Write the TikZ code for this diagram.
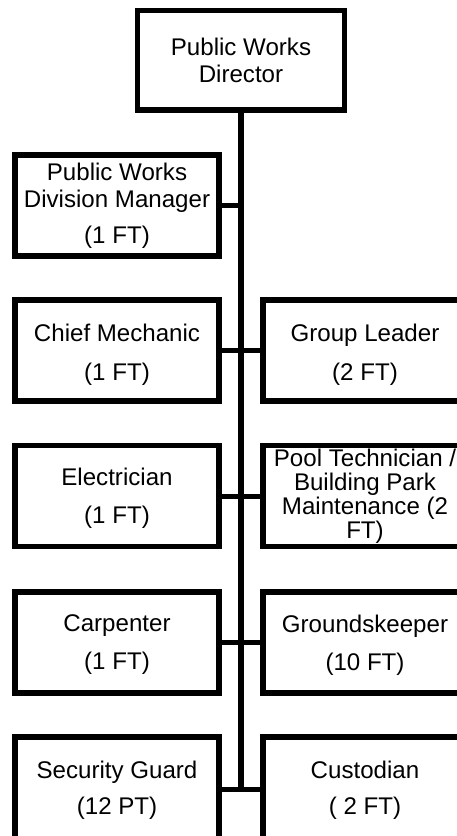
\documentclass[tikz,border=0pt]{standalone}
\usepackage{fontspec}
\setmainfont{Liberation Sans}
\begin{document}
\begin{tikzpicture}[x=1pt,y=-1pt,
  post/.style={draw, line width=5.5pt, inner sep=0pt,
    minimum width=204pt, minimum height=101pt},
  caption/.style={inner sep=0pt, align=center,
    font=\fontsize{24.1}{27}\selectfont},
  link/.style={line width=5pt},
  trunk/.style={line width=6pt}]
\useasboundingbox (0,0) rectangle (457,836);
\clip (0,0) rectangle (457,836);

% boxes: head of the department, left column, right column
\node[post, minimum width=207pt, minimum height=99.5pt] (dir) at (241,60.25) {};
\node[post] (pwdm) at (117,205.5) {};
\node[post] (cm) at (117,350.5) {};
\node[post] (el) at (117,496) {};
\node[post] (cp) at (117,642.5) {};
\node[post, minimum height=104pt] (sg) at (117,789) {};
\node[post] (gl) at (365,350.5) {};
\node[post] (pt) at (365,496) {};
\node[post] (gk) at (365,642.5) {};
\node[post, minimum height=104pt] (cu) at (365,789) {};

% titles and head counts
\node[caption] (dir-t) at (dir.center) {Public Works\\Director};
\node[caption] (pwdm-t) at (pwdm.center) {Public Works\\Division Manager\\[9pt](1 FT)};
\node[caption, yshift=-4pt] (cm-t) at (cm.center) {Chief Mechanic\\[12pt](1 FT)};
\node[caption, yshift=-4pt] (gl-t) at (gl.center) {Group Leader\\[12pt](2 FT)};
\node[caption, yshift=-2.5pt] (el-t) at (el.center) {Electrician\\[11pt](1 FT)};
\node[caption, yshift=-0.5pt, font=\fontsize{24.1}{24}\selectfont] (pt-t) at (pt.center)
  {Pool Technician /\\Building Park\\Maintenance (2\\FT)};
\node[caption, yshift=-2.5pt] (cp-t) at (cp.center) {Carpenter\\[11pt](1 FT)};
\node[caption, yshift=-2.5pt] (gk-t) at (gk.center) {Groundskeeper\\[11pt](10 FT)};
\node[caption, yshift=-1.5pt] (sg-t) at (sg.center) {Security Guard\\[9pt](12 PT)};
\node[caption, yshift=-1.5pt] (cu-t) at (cu.center) {Custodian\\[9pt]( 2 FT)};

% reporting lines
\draw[trunk] (dir.south) -- (dir.south |- sg.east);
\draw[link] (pwdm.east) -- (pwdm.east -| dir.south);
\draw[link] (cm.east) -- (gl.west);
\draw[link] (el.east) -- (pt.west);
\draw[link] (cp.east) -- (gk.west);
\draw[link] (sg.east) -- (cu.west);
\end{tikzpicture}
\end{document}
